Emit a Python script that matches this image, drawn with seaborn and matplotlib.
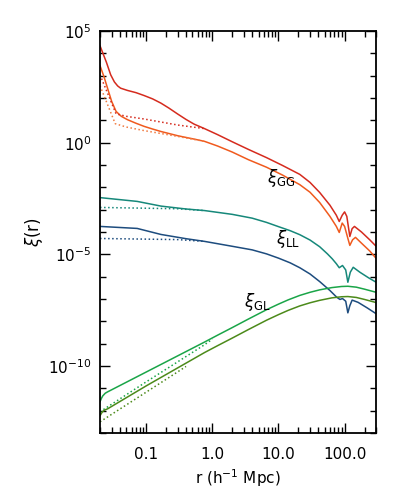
"""
Funciones de correlacion xi_GG, xi_LL y xi_GL frente a r.
"""

import numpy as np
import pandas as pd
import matplotlib
matplotlib.use("Agg")
import matplotlib.pyplot as plt
from matplotlib.ticker import FixedLocator, NullFormatter
import seaborn as sns

# --- datos (r en h^-1 Mpc, log10 xi) ---
r_gg1 = [0.02, 0.025, 0.029, 0.033, 0.037, 0.041, 0.052, 0.07, 0.093, 0.125, 0.167, 0.22,
         0.30, 0.40, 0.53, 0.76, 1.2, 2.0, 3.5, 6.6, 11.5, 21.0, 30.0, 42.0, 60.0, 75.0,
         83.0, 92.0, 100.0, 108.0, 120.0, 130.0, 141.0, 180.0, 240.0, 300.0]
xi_gg1 = [4.34, 3.60, 3.04, 2.72, 2.54, 2.44, 2.34, 2.24, 2.11, 1.96, 1.77, 1.55,
          1.28, 1.04, 0.83, 0.63, 0.36, 0.04, -0.30, -0.67, -1.02, -1.42, -1.78, -2.23,
          -2.80, -3.25, -3.53, -3.25, -3.10, -3.30, -4.20, -3.85, -3.75, -4.00, -4.35, -4.64]

r_gg2 = [0.02, 0.023, 0.026, 0.030, 0.035, 0.042, 0.052, 0.07, 0.093, 0.125, 0.167, 0.30,
         0.53, 0.76, 1.2, 2.0, 3.5, 6.6, 11.5, 21.0, 30.0, 42.0, 60.0, 75.0, 83.0, 92.0,
         100.0, 110.0, 120.0, 132.0, 146.0, 180.0, 240.0, 300.0]
xi_gg2 = [3.45, 2.95, 2.44, 1.85, 1.40, 1.18, 1.03, 0.87, 0.73, 0.61, 0.50, 0.31,
          0.16, 0.06, -0.15, -0.42, -0.76, -1.10, -1.45, -1.88, -2.22, -2.68, -3.30,
          -3.75, -4.02, -3.60, -3.75, -4.20, -4.60, -4.35, -4.24, -4.50, -4.85, -5.18]

r_gg1_lin = [0.02, 0.035, 0.05, 0.093, 0.30, 0.76]
xi_gg1_lin = [3.04, 1.29, 1.18, 1.06, 0.79, 0.63]

r_gg2_lin = [0.02, 0.034, 0.05, 0.093, 0.30, 0.76]
xi_gg2_lin = [2.55, 0.85, 0.70, 0.54, 0.28, 0.06]

r_ll1 = [0.02, 0.073, 0.167, 0.40, 0.76, 2.0, 4.0, 6.6, 10.0, 15.0, 21.0, 30.0, 42.0,
         55.0, 65.0, 75.0, 83.0, 93.0, 104.0, 112.0, 122.0, 135.0, 170.0, 230.0, 300.0]
xi_ll1 = [-2.46, -2.63, -2.84, -2.97, -3.04, -3.21, -3.38, -3.57, -3.76, -3.94, -4.12,
          -4.36, -4.66, -4.98, -5.20, -5.42, -5.60, -5.50, -5.70, -6.25, -5.80, -5.58,
          -5.80, -6.05, -6.25]

r_ll1_lin = [0.02, 0.30, 0.76]
xi_ll1_lin = [-2.90, -2.96, -3.04]

r_ll2 = [0.02, 0.073, 0.167, 0.40, 0.76, 2.0, 4.0, 6.6, 10.0, 15.0, 21.0, 30.0, 42.0,
         60.0, 76.0, 85.0, 93.0, 104.0, 112.0, 120.0, 130.0, 160.0, 220.0, 300.0]
xi_ll2 = [-3.75, -3.84, -4.11, -4.30, -4.42, -4.64, -4.80, -4.98, -5.17, -5.38, -5.60,
          -5.88, -6.22, -6.62, -6.92, -7.02, -6.98, -7.10, -7.62, -7.30, -7.05, -7.15,
          -7.40, -7.66]

r_ll2_lin = [0.02, 0.30, 0.76]
xi_ll2_lin = [-4.29, -4.34, -4.42]

r_gl1 = [0.02, 0.021, 0.022, 0.024, 0.026, 0.1, 0.76, 1.2, 2.0, 3.5, 6.6, 10.0, 14.0,
         21.0, 30.0, 42.0, 64.0, 90.0, 112.0, 150.0, 200.0, 300.0]
xi_gl1 = [-11.60, -11.45, -11.34, -11.22, -11.16, -10.27, -8.93, -8.62, -8.28, -7.90,
          -7.48, -7.23, -7.04, -6.84, -6.70, -6.59, -6.49, -6.44, -6.43, -6.47, -6.56,
          -6.70]

r_gl1_lin = [0.02, 0.1, 0.76, 1.0]
xi_gl1_lin = [-12.05, -10.71, -9.05, -8.80]

r_gl2 = [0.02, 0.021, 0.022, 0.024, 0.026, 0.1, 0.76, 1.2, 2.0, 3.5, 6.6, 10.0, 14.0,
         21.0, 30.0, 42.0, 64.0, 90.0, 112.0, 150.0, 200.0, 300.0]
xi_gl2 = [-12.23, -12.12, -12.04, -11.96, -11.92, -10.89, -9.40, -9.09, -8.75, -8.37,
          -7.95, -7.70, -7.51, -7.31, -7.17, -7.06, -6.95, -6.90, -6.89, -6.93, -7.02,
          -7.16]

r_gl2_lin = [0.02, 0.1, 0.3, 0.4]
xi_gl2_lin = [-12.50, -11.17, -10.26, -10.02]

curves = [
    (r_gg1, xi_gg1, "#d52b1e", "-"),
    (r_gg2, xi_gg2, "#f05a1e", "-"),
    (r_gg1_lin, xi_gg1_lin, "#d52b1e", ":"),
    (r_gg2_lin, xi_gg2_lin, "#f07a40", ":"),
    (r_ll1, xi_ll1, "#16887a", "-"),
    (r_ll1_lin, xi_ll1_lin, "#16887a", ":"),
    (r_ll2, xi_ll2, "#1d4c7e", "-"),
    (r_ll2_lin, xi_ll2_lin, "#1d4c7e", ":"),
    (r_gl1, xi_gl1, "#1aa548", "-"),
    (r_gl1_lin, xi_gl1_lin, "#1aa548", ":"),
    (r_gl2, xi_gl2, "#4c8a1a", "-"),
    (r_gl2_lin, xi_gl2_lin, "#4c8a1a", ":"),
]

sns.set_style("ticks")
plt.rcParams["font.family"] = ["DejaVu Sans"]
plt.rcParams["mathtext.fontset"] = "dejavusans"
plt.rcParams["text.color"] = "black"
plt.rcParams["axes.labelcolor"] = "black"
plt.rcParams["xtick.color"] = "black"
plt.rcParams["ytick.color"] = "black"

fig = plt.figure(figsize=(4.07, 4.97), dpi=100)
ax = fig.add_axes([0.2457, 0.1288, 0.6785, 0.8088])

for r, lx, color, ls in curves:
    df = pd.DataFrame({"r": r, "xi": 10.0 ** np.array(lx)})
    sns.lineplot(data=df, x="r", y="xi", color=color, linestyle=ls, lw=1.1, ax=ax,
                 estimator=None)

ax.set_xscale("log")
ax.set_yscale("log")
ax.set_xlim(0.02, 300)
ax.set_ylim(1e-13, 1e5)

ax.set_xticks([0.1, 1, 10, 100], ["0.1", "1.0", "10.0", "100.0"])
ax.xaxis.set_minor_locator(FixedLocator(
    [m * 10.0 ** e for e in range(-2, 3) for m in range(2, 10) if 0.02 <= m * 10.0 ** e <= 300]))
ax.xaxis.set_minor_formatter(NullFormatter())
ax.set_yticks([1e-10, 1e-5, 1e0, 1e5],
              [r"$10^{-10}$", r"$10^{-5}$", r"$10^{0}$", r"$10^{5}$"])
ax.yaxis.set_minor_locator(FixedLocator(10.0 ** np.arange(-13, 6)))
ax.yaxis.set_minor_formatter(NullFormatter())

ax.tick_params(which="both", direction="in", top=True, right=True, width=1.0,
               labelsize=11)
ax.tick_params(axis="x", which="both", pad=10)
ax.tick_params(axis="y", which="both", pad=6)
ax.tick_params(which="major", length=7)
ax.tick_params(which="minor", length=4)
for s in ax.spines.values():
    s.set_linewidth(1.3)
    s.set_color("black")

ax.set_xlabel(r"r (h$^{-1}$ Mpc)", fontsize=11, labelpad=4)
ax.set_ylabel(r"$\xi$(r)", fontsize=12)
ax.yaxis.set_label_coords(-0.2, 0.5)

ax.text(6.8, 10 ** -1.56, r"$\xi_{\rm GG}$", fontsize=12, va="center")
ax.text(9.3, 10 ** -4.33, r"$\xi_{\rm LL}$", fontsize=12, va="center")
ax.text(3.06, 10 ** -7.12, r"$\xi_{\rm GL}$", fontsize=12, va="center")

fig.savefig("out.png", dpi=100)
